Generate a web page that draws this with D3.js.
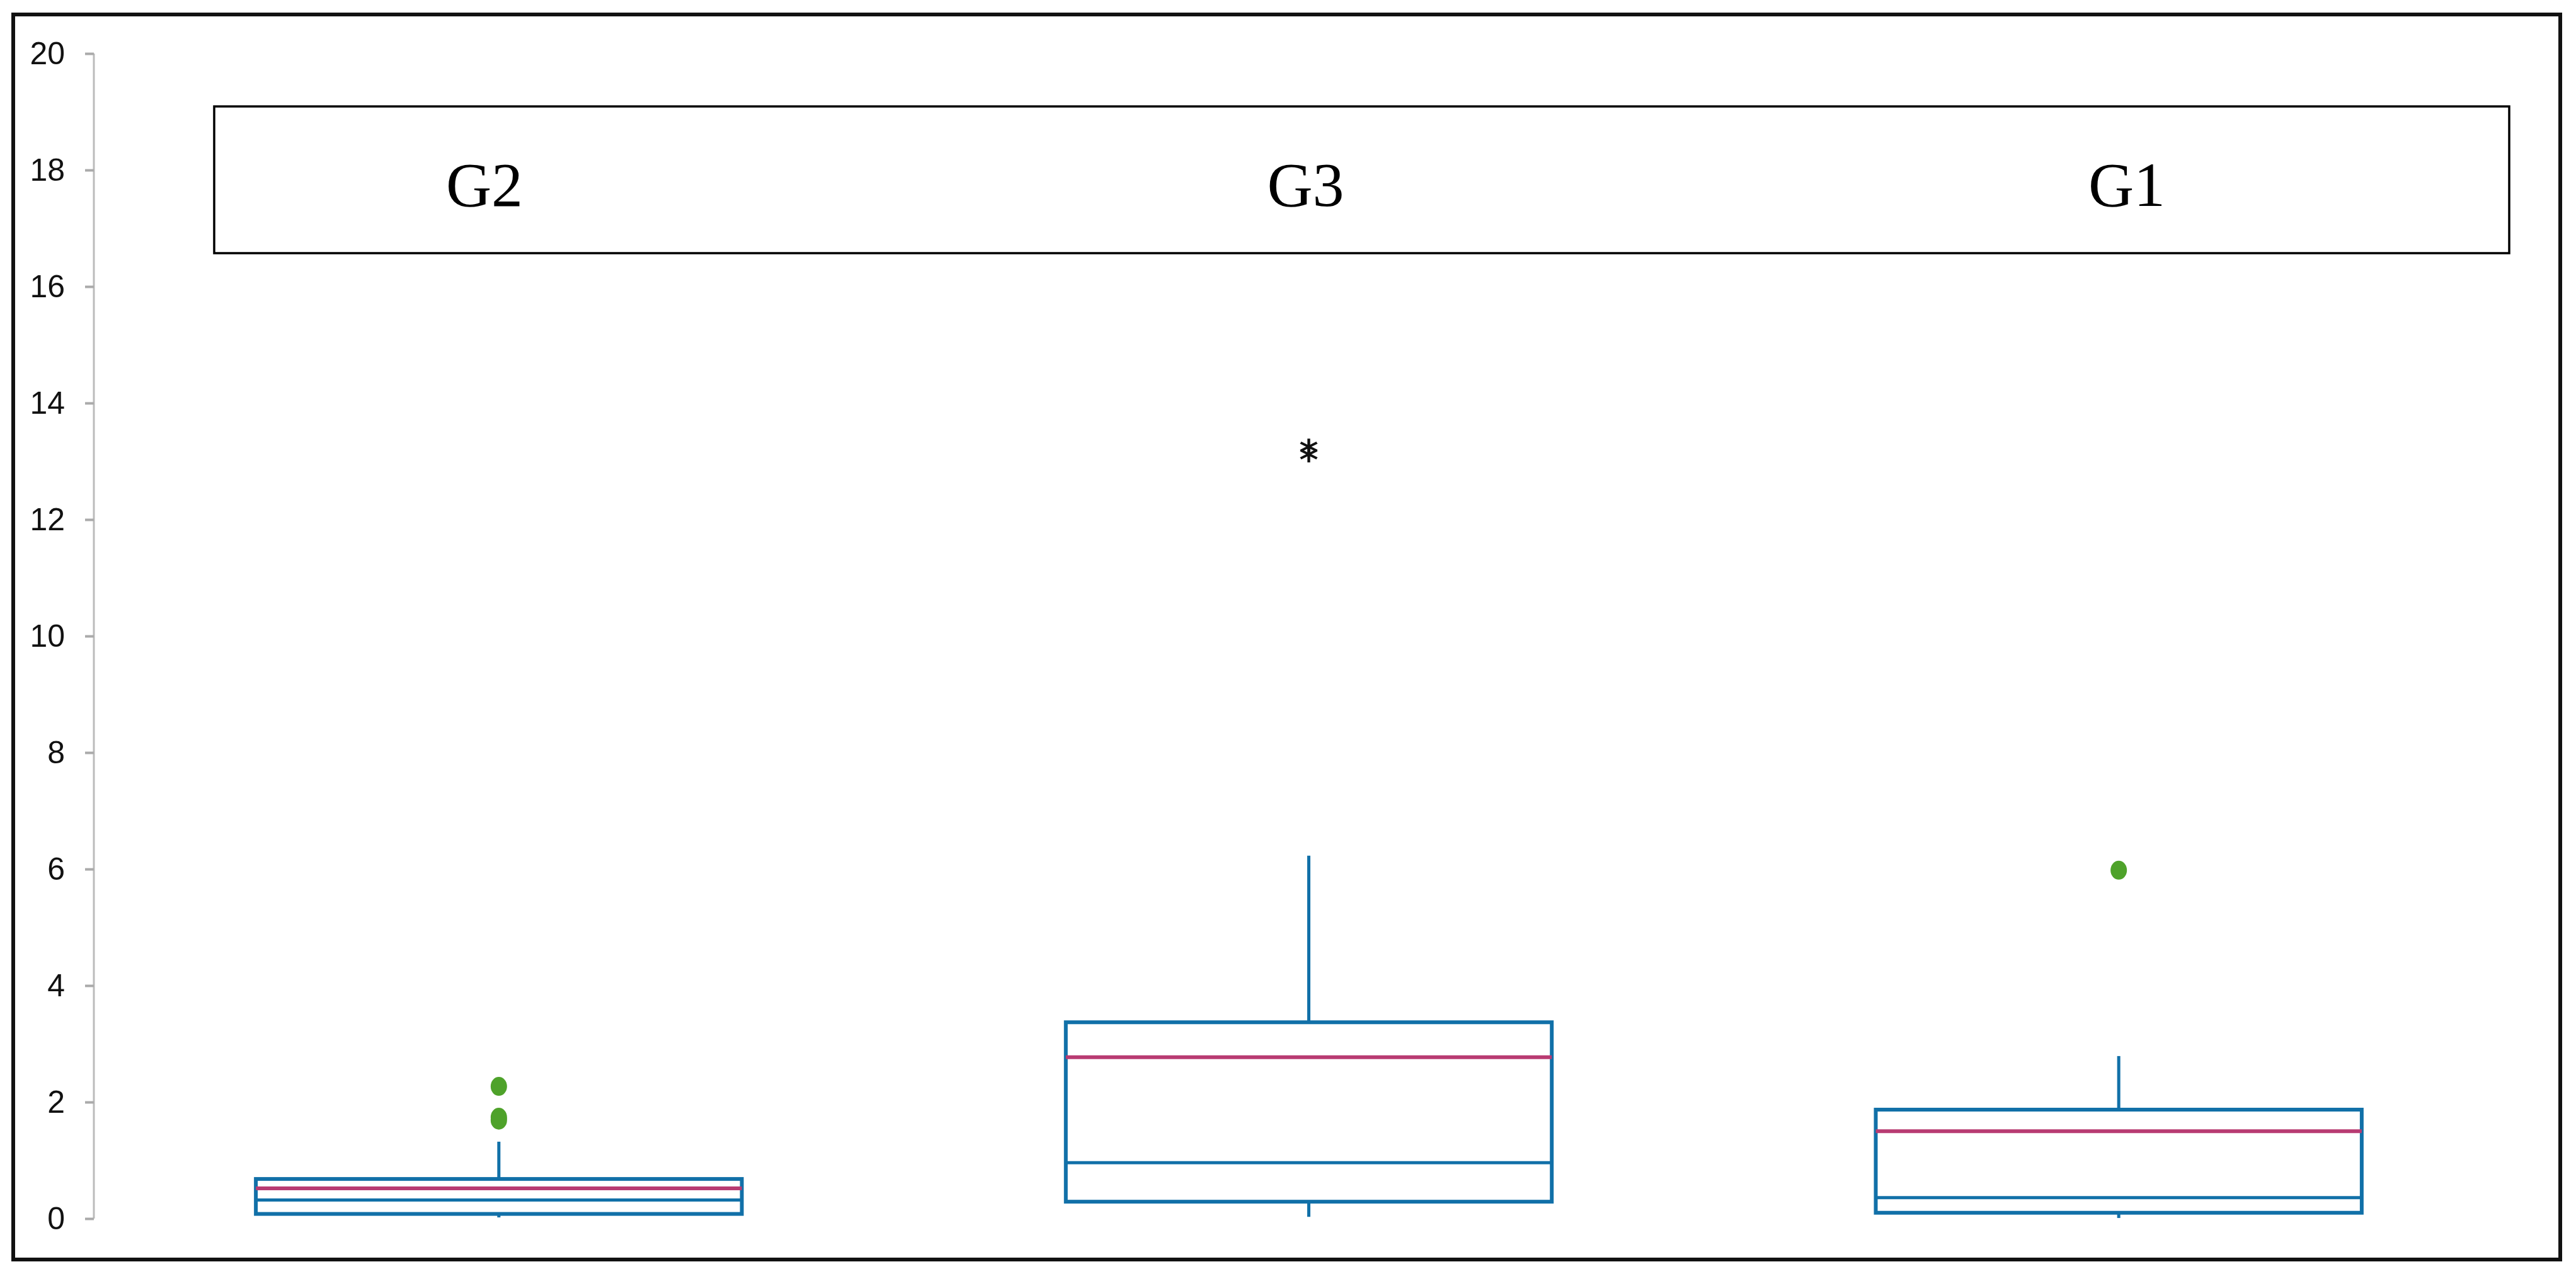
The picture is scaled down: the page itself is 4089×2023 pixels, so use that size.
<!DOCTYPE html>
<html>
<head>
<meta charset="utf-8">
<script src="https://cdn.jsdelivr.net/npm/d3@7"></script>
<style>
	html, body { margin: 0; padding: 0; background: #fff; }
	svg { display: block; }
</style>
</head>
<body>
<svg id="chart" width="4089" height="2023"></svg>
<script>
/* global d3 */

// groups, in the order they are drawn
let groups = ['G2', 'G3', 'G1'],
	// box statistics
	whiskerLow = [0.02, 0.03, 0.01],
	q1 = [0.08, 0.29, 0.10],
	median = [0.32, 0.96, 0.36],
	mean = [0.52, 2.77, 1.50],
	q3 = [0.68, 3.37, 1.87],
	whiskerHigh = [1.32, 6.23, 2.79],
	// mild outliers (dots) and extreme values (asterisks)
	outliers = [[2.27, 1.74, 1.69], [], [5.98]],
	extremes = [[], [13.25, 13.12], []],
	yTicks = [0, 2, 4, 6, 8, 10, 12, 14, 16, 18, 20];

let svg = d3.select('#chart'),
	blue = '#1170a8',
	red = '#b83b72',
	green = '#4ea22a',
	axisX = 149,
	x = d3.scaleBand().domain(groups).range([axisX, 4006]).paddingInner(0.4).paddingOuter(0.2),
	y = d3.scaleLinear().domain([0, 20]).range([1935, 85]),
	labelX = d3.scalePoint().domain(groups).range([769, 3376]);

let boxes = groups.map(function(g, i) {
	return {
		name: g,
		lo: whiskerLow[i], q1: q1[i], med: median[i], mean: mean[i], q3: q3[i], hi: whiskerHigh[i],
		out: outliers[i], ext: extremes[i]
	};
});

// outer frame
svg.append('rect')
	.attr('x', 21).attr('y', 23)
	.attr('width', 4064 - 21).attr('height', 2000 - 23)
	.attr('fill', 'none')
	.attr('stroke', '#111')
	.attr('stroke-width', 6);

// y axis
let yAxis = svg.append('g')
	.attr('transform', 'translate(' + axisX + ',0)')
	.call(d3.axisLeft(y).tickValues(yTicks).tickSize(14).tickPadding(32));

yAxis.select('.domain').attr('stroke', '#bbb').attr('stroke-width', 3)
	.attr('d', 'M0,' + y(20) + 'V' + y(0));
yAxis.selectAll('.tick line').attr('stroke', '#aaa').attr('stroke-width', 4);
yAxis.selectAll('.tick text')
	.attr('fill', '#111')
	.style('font', '50px "Liberation Sans Narrow", "Liberation Sans", Arial, sans-serif');

// label box
svg.append('rect')
	.attr('x', 340).attr('y', 169)
	.attr('width', 3983 - 340).attr('height', 402 - 169)
	.attr('fill', 'none')
	.attr('stroke', '#000')
	.attr('stroke-width', 3.5);

svg.append('g').selectAll('text')
	.data(groups)
	.enter().append('text')
		.attr('x', function(d) { return labelX(d); })
		.attr('y', 327)
		.attr('text-anchor', 'middle')
		.attr('fill', '#000')
		.style('font', '100px "Liberation Serif", "Times New Roman", serif')
		.text(function(d) { return d; });

// boxes
let bw = x.bandwidth(),
	g = svg.append('g').selectAll('g')
		.data(boxes)
		.enter().append('g')
			.attr('transform', function(d) { return 'translate(' + x(d.name) + ',0)'; });

// whiskers
g.append('line')
	.attr('x1', bw / 2).attr('x2', bw / 2)
	.attr('y1', function(d) { return y(d.q3); })
	.attr('y2', function(d) { return y(d.hi); })
	.attr('stroke', blue).attr('stroke-width', 5);

g.append('line')
	.attr('x1', bw / 2).attr('x2', bw / 2)
	.attr('y1', function(d) { return y(d.q1); })
	.attr('y2', function(d) { return y(d.lo); })
	.attr('stroke', blue).attr('stroke-width', 5);

g.append('rect')
	.attr('x', 0)
	.attr('y', function(d) { return y(d.q3); })
	.attr('width', bw)
	.attr('height', function(d) { return y(d.q1) - y(d.q3); })
	.attr('fill', 'none')
	.attr('stroke', blue)
	.attr('stroke-width', 6);

// median
g.append('line')
	.attr('x1', 0).attr('x2', bw)
	.attr('y1', function(d) { return y(d.med); })
	.attr('y2', function(d) { return y(d.med); })
	.attr('stroke', blue).attr('stroke-width', 5);

// mean
g.append('line')
	.attr('x1', 0).attr('x2', bw)
	.attr('y1', function(d) { return y(d.mean); })
	.attr('y2', function(d) { return y(d.mean); })
	.attr('stroke', red).attr('stroke-width', 6);

// outlier dots
g.selectAll('ellipse')
	.data(function(d) { return d.out; })
	.enter().append('ellipse')
		.attr('cx', bw / 2)
		.attr('cy', function(d) { return y(d); })
		.attr('rx', 13)
		.attr('ry', 15)
		.attr('fill', green);

// extreme values
g.selectAll('path.ext')
	.data(function(d) { return d.ext; })
	.enter().append('path')
		.attr('class', 'ext')
		.attr('transform', function(d) { return 'translate(' + bw / 2 + ',' + y(d) + ') scale(1.1,0.95)'; })
		.attr('d', d3.symbol(d3.symbolAsterisk, 520))
		.attr('fill', 'none')
		.attr('stroke', '#111')
		.attr('stroke-width', 4);
</script>
</body>
</html>
